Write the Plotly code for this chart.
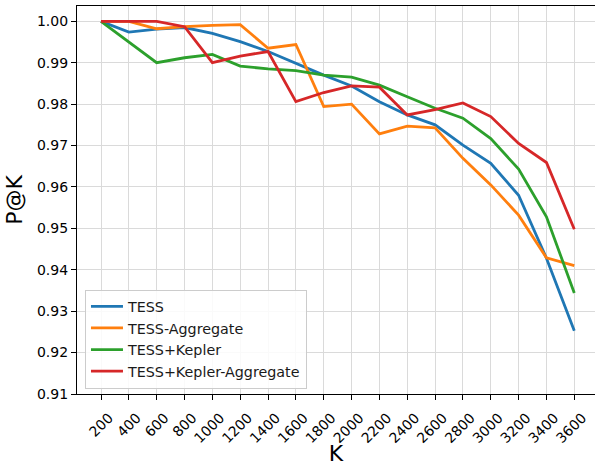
import plotly.graph_objects as go

k_values = [200, 400, 600, 800, 1000, 1200, 1400, 1600, 1800, 2000,
            2200, 2400, 2600, 2800, 3000, 3200, 3400, 3600]

tess = [1.0000, 0.9974, 0.9981, 0.9985, 0.9971, 0.9951, 0.9927, 0.9899, 0.9870,
        0.9844, 0.9806, 0.9774, 0.9750, 0.9701, 0.9657, 0.9580, 0.9428, 0.9253]
tess_agg = [1.0000, 1.0000, 0.9982, 0.9987, 0.9990, 0.9992, 0.9935, 0.9944, 0.9794,
            0.9800, 0.9728, 0.9747, 0.9743, 0.9669, 0.9605, 0.9532, 0.9429, 0.9410]
tess_kepler = [1.0000, 0.9950, 0.9900, 0.9912, 0.9920, 0.9892, 0.9885, 0.9881, 0.9870,
               0.9865, 0.9846, 0.9818, 0.9790, 0.9766, 0.9717, 0.9643, 0.9528, 0.9344]
tess_kepler_agg = [1.0000, 1.0000, 1.0000, 0.9987, 0.9900, 0.9916, 0.9927, 0.9806, 0.9828,
                   0.9844, 0.9841, 0.9774, 0.9787, 0.9803, 0.9770, 0.9705, 0.9659, 0.9498]

series_names = ["TESS", "TESS-Aggregate", "TESS+Kepler", "TESS+Kepler-Aggregate"]
series_values = [tess, tess_agg, tess_kepler, tess_kepler_agg]
colors = ["#1f77b4", "#ff7f0e", "#2ca02c", "#d62728"]

y_ticks = [0.91, 0.92, 0.93, 0.94, 0.95, 0.96, 0.97, 0.98, 0.99, 1.00]

fig = go.Figure()
for name, vals, c in zip(series_names, series_values, colors):
    fig.add_trace(go.Scatter(x=k_values, y=vals, mode="lines", name=name,
                             line=dict(color=c, width=2.8)))

font_family = "DejaVu Sans"
fig.update_layout(
    width=595, height=466,
    margin=dict(l=77, r=0, t=6, b=72, autoexpand=False),
    plot_bgcolor="white", paper_bgcolor="white",
    font=dict(family=font_family, size=14, color="black"),
    showlegend=True,
    legend=dict(x=0.0154, y=0.014, xanchor="left", yanchor="bottom",
                bgcolor="rgba(255,255,255,0.85)", bordercolor="#cccccc", borderwidth=1,
                font=dict(family=font_family, size=14.3, color="#1a1a1a"),
                itemwidth=32),
    xaxis=dict(
        range=[27.5, 3748.8], automargin=False,
        tickmode="array", tickvals=k_values, ticktext=[str(k) for k in k_values],
        tickangle=-45, ticklabelshift=8, ticklabelstandoff=4,
        showgrid=True, gridcolor="#dadada", gridwidth=1,
        showline=True, linecolor="black", linewidth=1.2, mirror=True,
        ticks="outside", ticklen=5, tickcolor="black",
        zeroline=False,
        title=dict(text="K", font=dict(family=font_family, size=22), standoff=6),
    ),
    yaxis=dict(
        range=[0.91, 1.0037], automargin=False,
        tickmode="array", tickvals=y_ticks, ticktext=[f"{v:.2f}" for v in y_ticks],
        showgrid=True, gridcolor="#dadada", gridwidth=1,
        showline=True, linecolor="black", linewidth=1.2, mirror=False,
        ticks="outside", ticklen=5, tickcolor="black",
        zeroline=False,
        title=dict(text="P@K", font=dict(family=font_family, size=22), standoff=8),
    ),
)

fig.write_html("out.html",
               config={"displayModeBar": False},
               post_script="document.body.style.margin='0';document.body.style.overflow='hidden';")
